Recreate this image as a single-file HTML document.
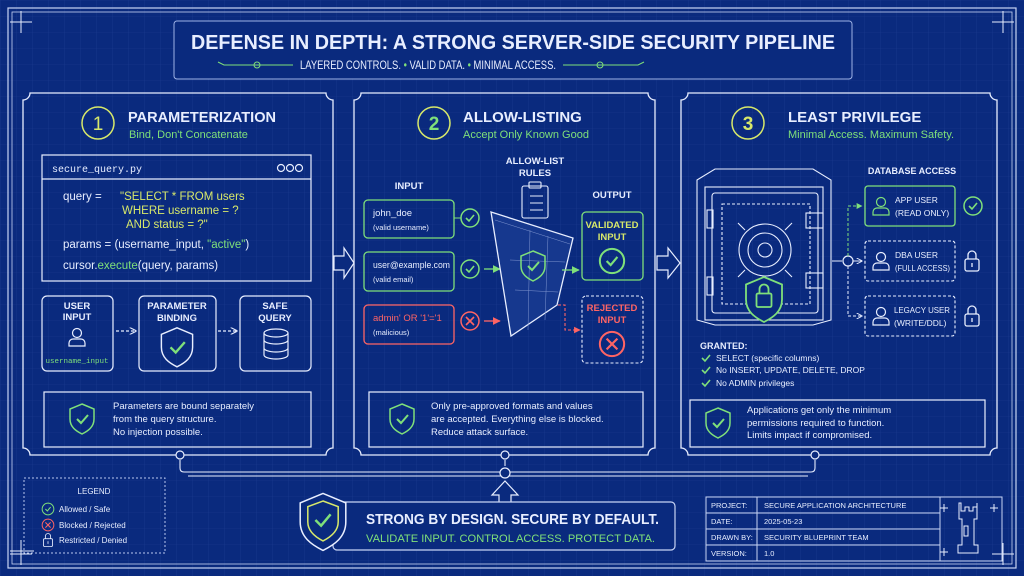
<!DOCTYPE html>
<html><head><meta charset="utf-8"><style>
html,body{margin:0;padding:0;background:#0a2a7e;}
svg{display:block}
text{font-family:"Liberation Sans",sans-serif;fill:#e8eeff}
.m{font-family:"Liberation Mono",monospace}
.g{fill:#7fe07a}.r{fill:#ff6464}.y{fill:#d7e86a}
</style></head><body>
<svg width="1024" height="576" viewBox="0 0 1024 576" xmlns="http://www.w3.org/2000/svg">
<defs>
<pattern id="gr" width="16" height="16" patternUnits="userSpaceOnUse"><path d="M16 0H0V16" fill="none" stroke="#2a4a9c" stroke-width="0.6" opacity="0.6"/></pattern>
<marker id="ah" viewBox="0 0 10 10" refX="9" refY="5" markerWidth="6" markerHeight="6" orient="auto"><path d="M0 0L10 5L0 10" fill="none" stroke="#e8eeff" stroke-width="1.5"/></marker>
<marker id="ag" viewBox="0 0 10 10" refX="9" refY="5" markerWidth="6" markerHeight="6" orient="auto"><path d="M0 0L10 5L0 10z" fill="#7fe07a"/></marker>
<marker id="ar" viewBox="0 0 10 10" refX="9" refY="5" markerWidth="6" markerHeight="6" orient="auto"><path d="M0 0L10 5L0 10z" fill="#ff6464"/></marker>
<g id="shield"><path d="M0 -14 L12 -9 L12 1 C12 9 6 13 0 16 C-6 13 -12 9 -12 1 L-12 -9Z" fill="none" stroke="#7fe07a" stroke-width="1.5"/><path d="M-5 1L-1 5L6 -3" fill="none" stroke="#7fe07a" stroke-width="2"/></g>
<g id="ok"><circle r="9" fill="none" stroke="#7fe07a" stroke-width="1.5"/><path d="M-4 0L-1 3L4 -3" fill="none" stroke="#7fe07a" stroke-width="1.6"/></g>
<g id="no"><circle r="9" fill="none" stroke="#ff6464" stroke-width="1.5"/><path d="M-4 -4L4 4M4 -4L-4 4" stroke="#ff6464" stroke-width="1.6"/></g>
<g id="lock"><rect x="-7" y="-2" width="14" height="12" rx="2" fill="none" stroke="#e8eeff" stroke-width="1.3"/><path d="M-4 -2V-6A4 4 0 0 1 4 -6V-2" fill="none" stroke="#e8eeff" stroke-width="1.3"/><path d="M0 2V6" stroke="#e8eeff" stroke-width="1.3"/></g>
<g id="user"><circle cy="-5" r="4.5" fill="none" stroke="#e8eeff" stroke-width="1.2"/><path d="M-8 8V5A4 4 0 0 1 -4 1H4A4 4 0 0 1 8 5V8Z" fill="none" stroke="#e8eeff" stroke-width="1.2"/></g>
</defs>
<rect width="1024" height="576" fill="#0a2a7e"/>
<rect width="1024" height="576" fill="url(#gr)"/>
<rect x="8" y="8" width="1008" height="560" fill="none" stroke="#c8d4f4" stroke-width="1.2"/>
<rect x="12" y="12" width="1000" height="552" fill="none" stroke="#c8d4f4" stroke-width="0.8"/>
<g stroke="#e8eeff" stroke-width="1"><path d="M10 22H32M21 11V33M992 22H1014M1003 11V33M10 554H32M21 543V565M992 554H1014M1003 543V565"/></g>

<!-- title -->
<rect x="174" y="21" width="678" height="58" rx="3" fill="#0a2a7e" stroke="#9fb3e6" stroke-width="1"/>
<text x="191" y="49" font-size="20" font-weight="bold" textLength="644" lengthAdjust="spacingAndGlyphs">DEFENSE IN DEPTH: A STRONG SERVER-SIDE SECURITY PIPELINE</text>
<text x="300" y="69" font-size="12" textLength="256" lengthAdjust="spacingAndGlyphs">LAYERED CONTROLS. <tspan class="g">•</tspan> VALID DATA. <tspan class="g">•</tspan> MINIMAL ACCESS.</text>
<g stroke="#7fe07a" stroke-width="1" fill="none"><path d="M218 62L224 65H293"/><circle cx="257" cy="65" r="3"/><path d="M563 65H638L644 62"/><circle cx="600" cy="65" r="3"/></g>

<!-- panels -->
<g fill="none" stroke="#e8eeff" stroke-width="1.3">
<path d="M30 93H326A7 7 0 0 0 333 100V448A7 7 0 0 0 326 455H30A7 7 0 0 0 23 448V100A7 7 0 0 0 30 93Z"/>
<path d="M361 93H648A7 7 0 0 0 655 100V448A7 7 0 0 0 648 455H361A7 7 0 0 0 354 448V100A7 7 0 0 0 361 93Z"/>
<path d="M688 93H990A7 7 0 0 0 997 100V448A7 7 0 0 0 990 455H688A7 7 0 0 0 681 448V100A7 7 0 0 0 688 93Z"/>
</g>
<g fill="#0a2a7e" stroke="#e8eeff" stroke-width="1.2"><path d="M334 256H344V248L354 263L344 278V270H334Z"/><path d="M657 256H668V248L680 263L668 278V270H657Z"/></g>

<!-- Panel 1 -->
<circle cx="98" cy="123" r="16" fill="none" stroke="#d7e86a" stroke-width="1.5"/>
<text x="98" y="130" text-anchor="middle" font-size="19" class="y">1</text>
<text x="128" y="122" font-size="15" font-weight="bold" textLength="148" lengthAdjust="spacingAndGlyphs">PARAMETERIZATION</text>
<text x="129" y="138" font-size="11" class="g">Bind, Don't Concatenate</text>
<rect x="42" y="155" width="269" height="126" fill="none" stroke="#e8eeff" stroke-width="1.2"/>
<line x1="42" y1="179" x2="311" y2="179" stroke="#e8eeff" stroke-width="1.2"/>
<text x="52" y="172" font-size="10" class="m">secure_query.py</text>
<g fill="none" stroke="#e8eeff" stroke-width="1.2"><circle cx="281" cy="168" r="3.5"/><circle cx="290" cy="168" r="3.5"/><circle cx="299" cy="168" r="3.5"/></g>
<g class="m" font-size="11.5">
<text x="63" y="200">query =</text><text x="120" y="200" class="y">"SELECT * FROM users</text>
<text x="122" y="214" class="y">WHERE username = ?</text>
<text x="126" y="228" class="y">AND status = ?"</text>
<text x="63" y="248">params = (username_input, <tspan class="g">"active"</tspan>)</text>
<text x="63" y="269">cursor.<tspan class="g">execute</tspan>(query, params)</text>
</g>
<g fill="none" stroke="#e8eeff" stroke-width="1.2"><rect x="42" y="296" width="71" height="75" rx="5"/><rect x="139" y="296" width="77" height="75" rx="5"/><rect x="240" y="296" width="71" height="75" rx="5"/></g>
<g font-size="9.5" font-weight="bold" text-anchor="middle"><text x="77" y="309">USER</text><text x="77" y="320">INPUT</text><text x="177" y="309">PARAMETER</text><text x="177" y="321">BINDING</text><text x="275" y="309">SAFE</text><text x="275" y="321">QUERY</text></g>
<use href="#user" x="77" y="338"/>
<text x="77" y="363" text-anchor="middle" font-size="7.5" class="m g">username_input</text>
<g transform="translate(177,346) scale(1.3)"><path d="M0 -14 L12 -9 L12 1 C12 9 6 13 0 16 C-6 13 -12 9 -12 1 L-12 -9Z" fill="none" stroke="#e8eeff" stroke-width="1.1"/><path d="M-5 1L-1 5L6 -3" fill="none" stroke="#7fe07a" stroke-width="1.8"/></g>
<g fill="none" stroke="#e8eeff" stroke-width="1.2"><ellipse cx="276" cy="333" rx="12" ry="4"/><path d="M264 333V355A12 4 0 0 0 288 355V333M264 340A12 4 0 0 0 288 340M264 348A12 4 0 0 0 288 348"/></g>
<g stroke="#e8eeff" stroke-width="1.2" stroke-dasharray="3 2"><line x1="116" y1="331" x2="136" y2="331" marker-end="url(#ah)"/><line x1="218" y1="331" x2="237" y2="331" marker-end="url(#ah)"/></g>
<rect x="44" y="392" width="267" height="55" fill="none" stroke="#e8eeff" stroke-width="1.2"/>
<use href="#shield" x="82" y="418"/>
<g font-size="9.5"><text x="113" y="409">Parameters are bound separately</text><text x="113" y="422">from the query structure.</text><text x="113" y="435">No injection possible.</text></g>

<!-- Panel 2 -->
<circle cx="434" cy="123" r="16" fill="none" stroke="#d7e86a" stroke-width="1.5"/>
<text x="434" y="130" text-anchor="middle" font-size="19" class="g" font-weight="bold">2</text>
<text x="463" y="122" font-size="15" font-weight="bold">ALLOW-LISTING</text>
<text x="463" y="138" font-size="11" class="g">Accept Only Known Good</text>
<g font-size="9.5" font-weight="bold" text-anchor="middle"><text x="409" y="189">INPUT</text><text x="535" y="164">ALLOW-LIST</text><text x="535" y="176">RULES</text><text x="612" y="198">OUTPUT</text></g>
<g fill="none" stroke="#e8eeff" stroke-width="1.1"><rect x="522" y="186" width="26" height="32" rx="2"/><rect x="529" y="182" width="12" height="6" rx="1"/><path d="M530 196H543M530 203H543M530 210H543"/></g>
<g fill="none" stroke-width="1.3"><rect x="364" y="200" width="90" height="38" rx="4" stroke="#7fe07a"/><rect x="364" y="252" width="90" height="39" rx="4" stroke="#7fe07a"/><rect x="364" y="305" width="90" height="39" rx="4" stroke="#ff6464"/></g>
<g font-size="9.5"><text x="373" y="216">john_doe</text><text x="373" y="268" textLength="77" lengthAdjust="spacingAndGlyphs">user@example.com</text><text x="373" y="321" class="r">admin' OR '1'='1</text></g>
<g font-size="7.5"><text x="373" y="230">(valid username)</text><text x="373" y="282">(valid email)</text><text x="373" y="335">(malicious)</text></g>
<line x1="454" y1="218" x2="461" y2="218" stroke="#7fe07a"/>
<use href="#ok" x="470" y="218"/><use href="#ok" x="470" y="269"/><use href="#no" x="470" y="321"/>
<line x1="484" y1="269" x2="500" y2="269" stroke="#7fe07a" stroke-width="1.3" marker-end="url(#ag)"/>
<line x1="484" y1="321" x2="500" y2="321" stroke="#ff6464" stroke-width="1.3" marker-end="url(#ar)"/>
<path d="M491 212L573 238L557 305L511 336Z" fill="#16388e" stroke="#e8eeff" stroke-width="1.3"/>
<path d="M495 220L570 244M510 260L565 262M515 290L558 292M530 230L528 330M548 236L545 320" stroke="#7f95d0" stroke-width="0.5" fill="none"/>
<use href="#shield" x="533" y="265"/>
<line x1="562" y1="270" x2="579" y2="270" stroke="#7fe07a" stroke-width="1.3" marker-end="url(#ag)"/>
<path d="M558 305H565V330H580" fill="none" stroke="#ff6464" stroke-width="1.1" stroke-dasharray="3 2" marker-end="url(#ar)"/>
<rect x="582" y="212" width="61" height="68" rx="4" fill="none" stroke="#7fe07a" stroke-width="1.3"/>
<rect x="582" y="296" width="61" height="67" rx="4" fill="none" stroke="#e8eeff" stroke-width="1.1" stroke-dasharray="3 2"/>
<g font-size="9.5" font-weight="bold" text-anchor="middle"><text x="612" y="228" class="y">VALIDATED</text><text x="612" y="240" class="y">INPUT</text><text x="612" y="311" class="r">REJECTED</text><text x="612" y="323" class="r">INPUT</text></g>
<g transform="translate(612,261) scale(1.35)"><use href="#ok"/></g>
<g transform="translate(612,344) scale(1.35)"><use href="#no"/></g>
<rect x="369" y="392" width="274" height="55" fill="none" stroke="#e8eeff" stroke-width="1.2"/>
<use href="#shield" x="402" y="418"/>
<g font-size="9.5"><text x="431" y="409">Only pre-approved formats and values</text><text x="431" y="422">are accepted. Everything else is blocked.</text><text x="431" y="435">Reduce attack surface.</text></g>

<!-- Panel 3 -->
<circle cx="748" cy="123" r="16" fill="none" stroke="#d7e86a" stroke-width="1.5"/>
<text x="748" y="130" text-anchor="middle" font-size="19" class="y" font-weight="bold">3</text>
<text x="788" y="122" font-size="15" font-weight="bold">LEAST PRIVILEGE</text>
<text x="788" y="138" font-size="11" class="g">Minimal Access. Maximum Safety.</text>
<g fill="none" stroke="#e8eeff" stroke-width="1.1">
<path d="M697 180L715 169H813L831 180V320L813 325H715L697 320Z"/>
<rect x="705" y="187" width="118" height="133"/>
<rect x="712" y="193" width="106" height="120" rx="3"/>
<rect x="722" y="204" width="88" height="100" stroke-dasharray="3 2"/>
<circle cx="765" cy="250" r="26"/><circle cx="765" cy="250" r="17"/><circle cx="765" cy="250" r="7"/>
<path d="M745 230L738 223M785 230L792 223M745 270L738 277M785 270L792 277"/>
<rect x="806" y="213" width="17" height="15"/><rect x="806" y="273" width="17" height="15"/>
<rect x="707" y="210" width="6" height="18"/><rect x="707" y="277" width="6" height="18"/>
</g>
<g transform="translate(764,298) scale(1.5)"><path d="M0 -14 L12 -9 L12 1 C12 9 6 13 0 16 C-6 13 -12 9 -12 1 L-12 -9Z" fill="#0a2a7e" stroke="#7fe07a" stroke-width="1.2"/><rect x="-5" y="-3" width="10" height="9" rx="1" fill="none" stroke="#7fe07a" stroke-width="1.2"/><path d="M-3 -3V-6A3 3 0 0 1 3 -6V-3" fill="none" stroke="#7fe07a" stroke-width="1.2"/></g>
<text x="912" y="174" text-anchor="middle" font-size="9" font-weight="bold">DATABASE ACCESS</text>
<path d="M832 261H842" stroke="#e8eeff"/>
<circle cx="848" cy="261" r="5" fill="none" stroke="#e8eeff" stroke-width="1.2"/>
<path d="M853 261H862" stroke="#e8eeff" marker-end="url(#ah)"/>
<path d="M848 256V206H862" fill="none" stroke="#7fe07a" stroke-dasharray="3 2" marker-end="url(#ag)"/>
<path d="M848 266V316H862" fill="none" stroke="#e8eeff" stroke-dasharray="3 2" marker-end="url(#ah)"/>
<rect x="865" y="186" width="90" height="40" rx="3" fill="none" stroke="#7fe07a" stroke-width="1.3"/>
<rect x="865" y="241" width="90" height="40" rx="3" fill="none" stroke="#e8eeff" stroke-width="1.1" stroke-dasharray="3 2"/>
<rect x="865" y="296" width="90" height="40" rx="3" fill="none" stroke="#e8eeff" stroke-width="1.1" stroke-dasharray="3 2"/>
<g transform="translate(881,207)"><circle cy="-5" r="4.5" fill="none" stroke="#7fe07a" stroke-width="1.2"/><path d="M-8 8V5A4 4 0 0 1 -4 1H4A4 4 0 0 1 8 5V8Z" fill="none" stroke="#7fe07a" stroke-width="1.2"/></g>
<use href="#user" x="881" y="262"/><use href="#user" x="881" y="317"/>
<g font-size="8.5"><text x="895" y="203">APP USER</text><text x="895" y="216">(READ ONLY)</text><text x="895" y="258">DBA USER</text><text x="895" y="271" textLength="55" lengthAdjust="spacingAndGlyphs">(FULL ACCESS)</text><text x="894" y="313" textLength="56" lengthAdjust="spacingAndGlyphs">LEGACY USER</text><text x="894" y="326">(WRITE/DDL)</text></g>
<use href="#ok" x="973" y="206"/><use href="#lock" x="972" y="261"/><use href="#lock" x="972" y="316"/>
<text x="700" y="349" font-size="9" font-weight="bold">GRANTED:</text>
<g font-size="8.5"><text x="716" y="361">SELECT (specific columns)</text><text x="716" y="373">No INSERT, UPDATE, DELETE, DROP</text><text x="716" y="386">No ADMIN privileges</text></g>
<g stroke="#7fe07a" stroke-width="1.6" fill="none"><path d="M702 358L705 361L710 355M702 370L705 373L710 367M702 383L705 386L710 380"/></g>
<rect x="690" y="400" width="295" height="47" fill="none" stroke="#e8eeff" stroke-width="1.2"/>
<use href="#shield" x="718" y="422"/>
<g font-size="9.5"><text x="747" y="413">Applications get only the minimum</text><text x="747" y="426">permissions required to function.</text><text x="747" y="438">Limits impact if compromised.</text></g>

<!-- bottom connectors -->
<g fill="none" stroke="#e8eeff" stroke-width="1.1">
<path d="M180 460V468Q180 472 184 472H811Q815 472 815 468V460"/>
<path d="M188 476H808"/>
<path d="M505 460V466"/>
</g>
<g fill="#0a2a7e" stroke="#e8eeff" stroke-width="1.2"><circle cx="180" cy="455" r="4"/><circle cx="505" cy="455" r="4"/><circle cx="815" cy="455" r="4"/><circle cx="505" cy="473" r="5"/>
<path d="M505 481L518 495H511V503H499V495H492Z"/></g>

<!-- legend -->
<rect x="24" y="478" width="141" height="75" fill="none" stroke="#b8c6ee" stroke-dasharray="2 2"/>
<path d="M10 551H34M21 540V562" stroke="#e8eeff"/>
<text x="94" y="494" font-size="8" text-anchor="middle">LEGEND</text>
<g transform="translate(48,509) scale(0.65)"><use href="#ok"/></g>
<g transform="translate(48,525) scale(0.65)"><use href="#no"/></g>
<g transform="translate(48,540) scale(0.65)"><use href="#lock"/></g>
<g font-size="8"><text x="59" y="512">Allowed / Safe</text><text x="59" y="528">Blocked / Rejected</text><text x="59" y="543">Restricted / Denied</text></g>

<!-- banner -->
<rect x="333" y="502" width="342" height="48" rx="4" fill="#0a2a7e" stroke="#c8d4f4" stroke-width="1.2"/>
<g transform="translate(323,520) scale(1.9)"><path d="M0 -14 L12 -9 L12 1 C12 9 6 13 0 16 C-6 13 -12 9 -12 1 L-12 -9Z" fill="#0a2a7e" stroke="#e8eeff" stroke-width="0.8"/><path d="M0 -10 L8 -7 L8 1 C8 6 4 9 0 11 C-4 9 -8 6 -8 1 L-8 -7Z" fill="none" stroke="#d7e86a" stroke-width="0.8"/><path d="M-4 0L-1 3L4 -3" fill="none" stroke="#7fe07a" stroke-width="1.3"/></g>
<text x="366" y="524" font-size="15" font-weight="bold" textLength="293" lengthAdjust="spacingAndGlyphs">STRONG BY DESIGN. SECURE BY DEFAULT.</text>
<text x="366" y="542" font-size="11" class="g" textLength="289" lengthAdjust="spacingAndGlyphs">VALIDATE INPUT. CONTROL ACCESS. PROTECT DATA.</text>

<!-- title block -->
<g fill="none" stroke="#c8d4f4" stroke-width="1"><rect x="706" y="497" width="296" height="64"/><path d="M706 513H940M706 529H940M706 545H940M757 497V561M940 497V561"/></g>
<g font-size="7.5" class="m"><text x="711" y="508">PROJECT:</text><text x="711" y="524">DATE:</text><text x="711" y="540">DRAWN BY:</text><text x="711" y="556">VERSION:</text>
<text x="764" y="508">SECURE APPLICATION ARCHITECTURE</text><text x="764" y="524">2025-05-23</text><text x="764" y="540">SECURITY BLUEPRINT TEAM</text><text x="764" y="556">1.0</text></g>
<g fill="none" stroke="#e8eeff" stroke-width="1"><path d="M957 503V511H961V507H965V511H969V507H973V503V519H970V545H974V553H954V545H958V519H955V503Z" transform="translate(4,0)"/><rect x="964" y="526" width="4" height="10"/>
<path d="M944 504V512M940 508H948M994 504V512M990 508H998M944 548V556M940 552H948"/></g>
</svg>
</body></html>
